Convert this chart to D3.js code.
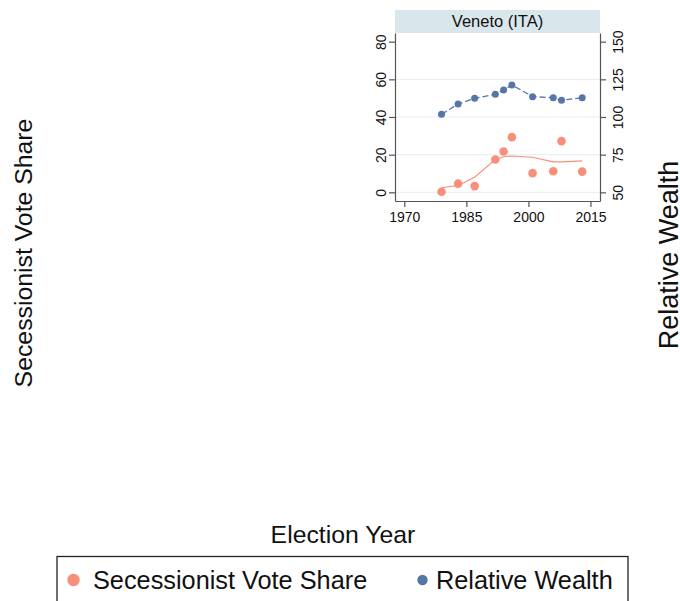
<!DOCTYPE html>
<html>
<head>
<meta charset="utf-8">
<script src="https://cdn.jsdelivr.net/npm/d3@7"></script>
<style>
  html, body { margin: 0; padding: 0; background: #fff; }
  svg { display: block; font-family: "Liberation Sans", Arial, sans-serif; }
</style>
</head>
<body>
<svg id="chart" width="680" height="601"></svg>
<script>
// Veneto (ITA): secessionist vote share vs. relative wealth by election year
const years      = [1979, 1983, 1987, 1992, 1994, 1996, 2001, 2006, 2008, 2013];
const voteShare  = [0.3, 4.6, 3.3, 17.4, 21.7, 29.3, 10.2, 11.2, 27.2, 11.0];
const voteFit    = [2.4, 3.6, 8.0, 17.4, 18.9, 19.3, 18.6, 16.2, 16.2, 16.7];
const wealth     = [101.8, 108.6, 112.4, 115.1, 117.9, 121.3, 113.5, 112.8, 111.1, 112.8];

const xTicks      = [1970, 1985, 2000, 2015];
const yLeftTicks  = [0, 20, 40, 60, 80];
const yRightTicks = [50, 75, 100, 125, 150];
const gridValues  = [0, 20, 40, 60];

const panelTitle  = "Veneto (ITA)";
const seriesNames = ["Secessionist Vote Share", "Relative Wealth"];
const xTitle = "Election Year";

const colVote = "#f98e7a";
const colWealth = "#5676a8";

const svg = d3.select("#chart");

// plot frame
const plot = { left: 395, right: 600, top: 33, bottom: 201 };

const x = d3.scaleLinear().domain([1967.75, 2017.3]).range([plot.left, plot.right]);
const yL = d3.scaleLinear().domain([-4.6, 84.6]).range([plot.bottom, plot.top]);
const yR = d3.scaleLinear().domain([50 - 4.6 * 1.25, 50 + 84.6 * 1.25]).range([plot.bottom, plot.top]);

// panel header strip
svg.append("rect")
  .attr("x", plot.left).attr("y", 10)
  .attr("width", plot.right - plot.left).attr("height", plot.top - 10)
  .attr("fill", "#d9e6ec");
svg.append("text")
  .attr("x", (plot.left + plot.right) / 2).attr("y", 27)
  .attr("text-anchor", "middle")
  .attr("font-size", 16.5).attr("fill", "#111")
  .text(panelTitle);

// grid lines
svg.append("g").selectAll("line").data(gridValues).join("line")
  .attr("x1", plot.left).attr("x2", plot.right)
  .attr("y1", d => yL(d)).attr("y2", d => yL(d))
  .attr("stroke", "#e6eef1").attr("stroke-width", 1);

// axes
const axisColor = "#555";
const styleAxis = g => {
  g.select(".domain").attr("stroke", axisColor).attr("stroke-width", 1.2);
  g.selectAll(".tick line").attr("stroke", axisColor).attr("stroke-width", 1.2);
  g.selectAll(".tick text").attr("fill", "#111").attr("font-family", "Liberation Sans, Arial, sans-serif");
};

const gx = svg.append("g").attr("transform", `translate(0,${plot.bottom})`)
  .call(d3.axisBottom(x).tickValues(xTicks).tickFormat(d3.format("d")).tickSize(6).tickSizeOuter(0).tickPadding(5))
  .call(styleAxis);
gx.selectAll(".tick text").attr("font-size", 14);

const gyL = svg.append("g").attr("transform", `translate(${plot.left},0)`)
  .call(d3.axisLeft(yL).tickValues(yLeftTicks).tickSize(6).tickSizeOuter(0))
  .call(styleAxis);
gyL.selectAll(".tick text")
  .attr("font-size", 14)
  .attr("x", null).attr("dy", null)
  .attr("text-anchor", "middle")
  .attr("transform", "translate(-9,0) rotate(-90)")
  .attr("y", 0);

const gyR = svg.append("g").attr("transform", `translate(${plot.right},0)`)
  .call(d3.axisRight(yR).tickValues(yRightTicks).tickSize(6).tickSizeOuter(0))
  .call(styleAxis);
gyR.selectAll(".tick text")
  .attr("font-size", 14)
  .attr("x", null).attr("dy", null)
  .attr("text-anchor", "middle")
  .attr("transform", "translate(23,0) rotate(-90)")
  .attr("y", 0);

// relative wealth: dashed connected line with markers
const wealthData = years.map((yr, i) => ({ yr, v: wealth[i] }));
svg.append("path")
  .datum(wealthData)
  .attr("fill", "none").attr("stroke", colWealth).attr("stroke-width", 1.3)
  .attr("stroke-dasharray", "6,3")
  .attr("d", d3.line().x(d => x(d.yr)).y(d => yR(d.v)));
svg.append("g").selectAll("circle").data(wealthData).join("circle")
  .attr("cx", d => x(d.yr)).attr("cy", d => yR(d.v)).attr("r", 3.5)
  .attr("fill", colWealth);

// secessionist vote share: smoothed fit and observed points
const fitData = years.map((yr, i) => ({ yr, v: voteFit[i] }));
svg.append("path")
  .datum(fitData)
  .attr("fill", "none").attr("stroke", colVote).attr("stroke-width", 1.1)
  .attr("d", d3.line().x(d => x(d.yr)).y(d => yL(d.v)));
const voteData = years.map((yr, i) => ({ yr, v: voteShare[i] }));
svg.append("g").selectAll("circle").data(voteData).join("circle")
  .attr("cx", d => x(d.yr)).attr("cy", d => yL(d.v)).attr("r", 4.3)
  .attr("fill", colVote);

// outer axis titles
svg.append("text")
  .attr("transform", "translate(32,253) rotate(-90)")
  .attr("text-anchor", "middle").attr("font-size", 24.8).attr("fill", "#111")
  .text(seriesNames[0]);
svg.append("text")
  .attr("transform", "translate(678,255) rotate(-90)")
  .attr("text-anchor", "middle").attr("font-size", 27).attr("fill", "#111")
  .text(seriesNames[1]);
svg.append("text")
  .attr("x", 343).attr("y", 543)
  .attr("text-anchor", "middle").attr("font-size", 24.8).attr("fill", "#111")
  .text(xTitle);

// legend
svg.append("rect")
  .attr("x", 57).attr("y", 556.5).attr("width", 571).attr("height", 60)
  .attr("fill", "#fff").attr("stroke", "#222").attr("stroke-width", 1.3);
const legendItems = [
  { name: seriesNames[0], color: colVote, r: 6.2, cx: 73.5, tx: 93 },
  { name: seriesNames[1], color: colWealth, r: 5.2, cx: 422.5, tx: 436 }
];
const lg = svg.append("g").selectAll("g").data(legendItems).join("g");
lg.append("circle")
  .attr("cx", d => d.cx).attr("cy", 580).attr("r", d => d.r).attr("fill", d => d.color);
lg.append("text")
  .attr("x", d => d.tx).attr("y", 589)
  .attr("font-size", 25.3).attr("fill", "#111")
  .text(d => d.name);
</script>
</body>
</html>
